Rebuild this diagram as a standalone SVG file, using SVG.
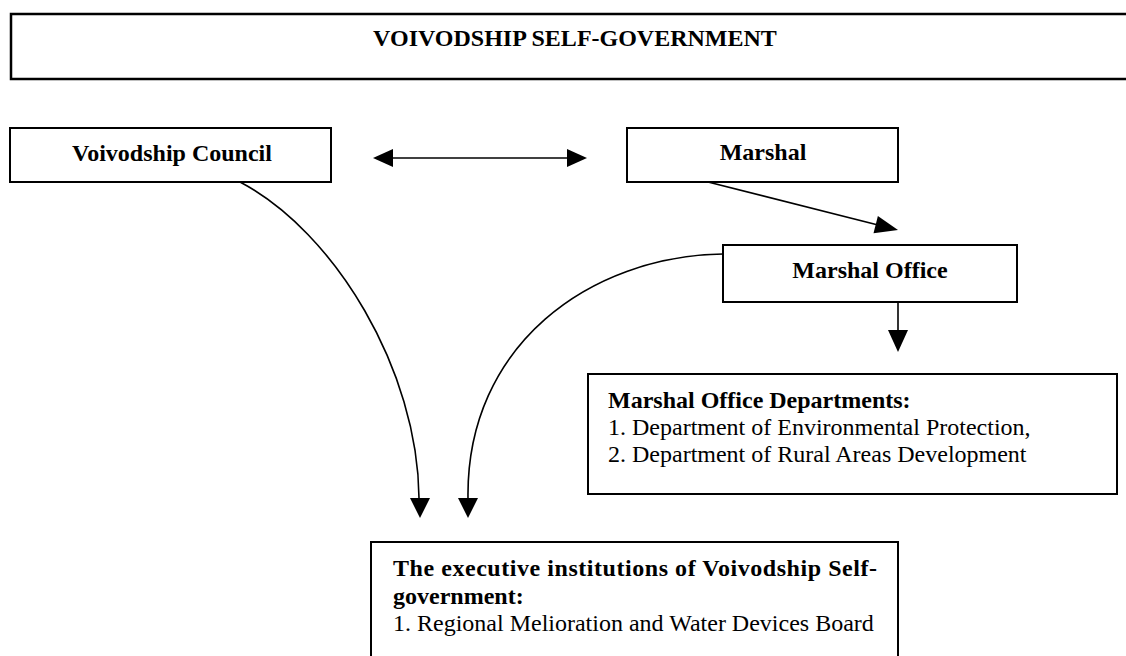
<svg xmlns="http://www.w3.org/2000/svg" width="1126" height="656" viewBox="0 0 1126 656">
<defs>
<style>
.box{fill:#fff;stroke:#000;stroke-width:2}
.t{font-family:"Liberation Serif","Times New Roman",serif;font-size:24px;fill:#000}
.b{font-weight:bold}
.c{fill:none;stroke:#000;stroke-width:1.6}
</style>
</defs>
<rect width="1126" height="656" fill="#fff"/>
<g id="title">
<rect class="box" x="11" y="14" width="1130" height="65" style="stroke-width:2.5"/>
<text class="t b" x="575" y="46" text-anchor="middle">VOIVODSHIP SELF-GOVERNMENT</text>
</g>
<g id="council">
<rect class="box" x="10" y="128" width="321" height="54"/>
<text class="t b" x="172" y="161" text-anchor="middle">Voivodship Council</text>
</g>
<g id="marshal">
<rect class="box" x="627" y="128" width="271" height="54"/>
<text class="t b" x="763" y="160" text-anchor="middle">Marshal</text>
</g>
<g id="office">
<rect class="box" x="723" y="245" width="294" height="57"/>
<text class="t b" x="870" y="278" text-anchor="middle">Marshal Office</text>
</g>
<g id="departments">
<rect class="box" x="588" y="374" width="529" height="120"/>
<text class="t b" x="608" y="408">Marshal Office Departments:</text>
<text class="t" x="608" y="435">1. Department of Environmental Protection,</text>
<text class="t" x="608" y="462">2. Department of Rural Areas Development</text>
</g>
<g id="executive">
<rect class="box" x="371" y="542" width="527" height="140"/>
<text class="t b" x="393" y="576" textLength="484" lengthAdjust="spacing">The executive institutions of Voivodship Self-</text>
<text class="t b" x="393" y="604">government:</text>
<text class="t" x="393" y="631">1. Regional Melioration and Water Devices Board</text>
</g>
<g id="connectors">
<path class="c" d="M392,158 L568,158"/>
<path d="M373,158 L393,149 L393,167 Z"/>
<path d="M587,158 L567,149 L567,167 Z"/>
<path class="c" d="M708,182 L880,225.5"/>
<path d="M898,230 L877.9,215.9 L873.5,233.3 Z"/>
<path class="c" d="M898,302 L898,331"/>
<path d="M888,330 L908,330 L898,352 Z"/>
<path class="c" d="M240,182 C335,232 418,370 419,498"/>
<path d="M410,498 L430,498 L420,518 Z"/>
<path class="c" d="M723,254 C590,256 466,345 468,498"/>
<path d="M458,498 L478,498 L468,518 Z"/>
</g>
</svg>
